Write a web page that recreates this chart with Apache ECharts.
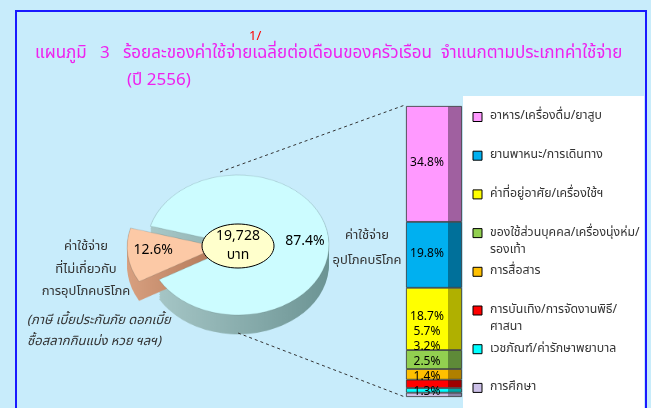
<!DOCTYPE html>
<html>
<head>
<meta charset="UTF-8">
<title>แผนภูมิ 3</title>
<script src="https://cdn.jsdelivr.net/npm/echarts@6/dist/echarts.min.js"></script>
<style>
    html, body { margin: 0; padding: 0; }
    #wrap { position: relative; width: 651px; height: 408px; background: #c8ecfb; overflow: hidden; }
    /* pie is squashed to look tilted */
    #pie { position: absolute; left: 0; top: 0; width: 651px; height: 408px; transform-origin: 0 245px; transform: scaleY(0.77); }
    #main { position: absolute; left: 0; top: 0; width: 651px; height: 408px; }
</style>
</head>
<body>
<div id="wrap"><div id="pie"></div><div id="main"></div></div>
<script>
// ข้อมูล
var pieNames = ['ค่าใช้จ่ายที่ไม่เกี่ยวกับการอุปโภคบริโภค', 'ค่าใช้จ่ายอุปโภคบริโภค'];
var pieValues = [12.6, 87.4];
var totalBaht = '19,728';
var cats = [
    'อาหาร/เครื่องดื่ม/ยาสูบ',
    'ยานพาหนะ/การเดินทาง',
    'ค่าที่อยู่อาศัย/เครื่องใช้ฯ',
    'ของใช้ส่วนบุคคล/เครื่องนุ่งห่ม/\nรองเท้า',
    'การสื่อสาร',
    'การบันเทิง/การจัดงานพิธี/\nศาสนา',
    'เวชภัณฑ์/ค่ารักษาพยาบาล',
    'การศึกษา'
];
var catValues = [34.8, 19.8, 18.7, 5.7, 3.2, 2.5, 1.4, 1.3];

var FONT = 'Tahoma, "Noto Sans Thai", "Noto Sans", "DejaVu Sans", sans-serif';
var catColors = ['#ff99ff', '#00b0f0', '#ffff00', '#92d050', '#ffc000', '#ff0000', '#00ffff', '#ccc0e8'];
var catDark = ['#a060a0', '#00709a', '#b0b000', '#5e8a38', '#b08000', '#a00000', '#00a8a8', '#8a84a8'];
var pieTop = ['#fcc9a6', '#ccfcff'];
var pieSide = [['#d8a080', '#b27858'], ['#a8c8c8', '#6c9494']];

var cx = 238, cy = 245, R = 91, depth = 25, startAng = 209.7;

// วงกลม (ชั้นล่าง)
var pieChart = echarts.init(document.getElementById('pie'));
var pieSeries = [];
function pieLayer(k, isTop) {
    return {
        type: 'pie',
        z: isTop ? 5 : 2,
        center: [cx, cy + k],
        radius: R,
        startAngle: startAng,
        selectedMode: 'single',
        selectedOffset: 20,
        silent: true,
        animation: false,
        label: { show: false },
        labelLine: { show: false },
        itemStyle: {
            borderColor: isTop ? 'rgba(60,80,80,0.35)' : 'transparent',
            borderWidth: isTop ? 0.6 : 0
        },
        data: pieValues.map(function (v, i) {
            var c = isTop ? pieTop[i] : new echarts.graphic.LinearGradient(0, 0, 1, 0, [
                { offset: 0, color: pieSide[i][0] }, { offset: 1, color: pieSide[i][1] }]);
            return { name: pieNames[i], value: v, selected: i === 0, itemStyle: { color: c } };
        })
    };
}
for (var k = depth; k > 0; k -= 3) pieSeries.push(pieLayer(k, false));
pieSeries.push(pieLayer(0, true));
pieChart.setOption({ backgroundColor: 'transparent', series: pieSeries });

// แผนภูมิหลัก
var total = catValues.reduce(function (a, b) { return a + b; }, 0);
var chart = echarts.init(document.getElementById('main'));

var barSeries = [];
for (var i = cats.length - 1; i >= 0; i--) {
    barSeries.push({
        type: 'bar',
        name: cats[i],
        stack: 'c',
        barWidth: 56,
        silent: true,
        animation: false,
        data: [catValues[i]],
        itemStyle: {
            color: new echarts.graphic.LinearGradient(0, 0, 1, 0, [
                { offset: 0, color: catColors[i] }, { offset: 0.75, color: catColors[i] },
                { offset: 0.75, color: catDark[i] }, { offset: 1, color: catDark[i] }
            ]),
            borderColor: '#333', borderWidth: 0.8
        },
        label: {
            show: true, position: 'inside', offset: [-7, 0],
            formatter: catValues[i].toFixed(1) + '%',
            color: '#000', fontSize: 12, fontFamily: FONT
        }
    });
}

var graphics = [
    { type: 'rect', shape: { x: 16, y: 11, width: 630, height: 420 }, style: { fill: 'none', stroke: '#1a1aff', lineWidth: 2 } },
    { type: 'text', x: 249, y: 37, style: { text: '1/', fill: '#ff0000', font: '13px ' + FONT, verticalAlign: 'middle' } },
    { type: 'text', x: 35, y: 55, style: { text: 'แผนภูมิ   3   ร้อยละของค่าใช้จ่ายเฉลี่ยต่อเดือนของครัวเรือน  จำแนกตามประเภทค่าใช้จ่าย', fill: '#ee22ee', font: '17px ' + FONT, verticalAlign: 'middle' } },
    { type: 'text', x: 127, y: 82, style: { text: '(ปี 2556)', fill: '#ee22ee', font: '17px ' + FONT, verticalAlign: 'middle' } },
    { type: 'rect', shape: { x: 463, y: 96, width: 181, height: 330 }, style: { fill: '#ffffff' } },
    { type: 'line', shape: { x1: 220, y1: 172, x2: 405, y2: 105 }, style: { stroke: '#333', lineWidth: 1, lineDash: [3, 3] } },
    { type: 'line', shape: { x1: 238, y1: 333, x2: 405, y2: 397 }, style: { stroke: '#333', lineWidth: 1, lineDash: [3, 3] } },
    { type: 'ellipse', shape: { cx: 238, cy: 246, rx: 36, ry: 22 }, style: { fill: '#ffffcc', stroke: '#000', lineWidth: 1 }, z: 10 },
    { type: 'text', x: 238, y: 247, z: 11, style: { text: totalBaht + '\nบาท', fill: '#000', font: '14px ' + FONT, align: 'center', verticalAlign: 'middle', lineHeight: 19 } },
    { type: 'text', x: 367, y: 249, style: { text: 'ค่าใช้จ่าย\nอุปโภคบริโภค', fill: '#333', font: '13px ' + FONT, align: 'center', verticalAlign: 'middle', lineHeight: 25 } },
    { type: 'text', x: 86, y: 270, style: { text: 'ค่าใช้จ่าย\nที่ไม่เกี่ยวกับ\nการอุปโภคบริโภค', fill: '#333', font: '13px ' + FONT, align: 'center', verticalAlign: 'middle', lineHeight: 22.5 } },
    { type: 'text', x: 27, y: 332, style: { text: '(ภาษี เบี้ยประกันภัย ดอกเบี้ย\nซื้อสลากกินแบ่ง หวย ฯลฯ)', fill: '#333', font: 'italic 13px ' + FONT, verticalAlign: 'middle', lineHeight: 21 } }
];

// คำอธิบายสัญลักษณ์
cats.forEach(function (name, i) {
    var y = 117 + i * 38.7;
    graphics.push({ type: 'rect', shape: { x: 473, y: y - 4.5, width: 9, height: 9 }, style: { fill: catColors[i], stroke: '#000', lineWidth: 1 } });
    graphics.push({ type: 'text', x: 490, y: y - 8.5, style: { text: name, fill: '#333', font: '12.3px ' + FONT, verticalAlign: 'top', lineHeight: 17 } });
});

chart.setOption({
    backgroundColor: 'transparent',
    animation: false,
    textStyle: { fontFamily: FONT },
    grid: { left: 406, top: 106, width: 56, height: 291 },
    xAxis: { type: 'category', data: ['ค่าใช้จ่ายอุปโภคบริโภค'], show: false },
    yAxis: { type: 'value', min: 0, max: total, show: false },
    series: barSeries.concat([{
        // ป้ายค่าร้อยละของวงกลม (วงโปร่งใส ไม่บีบ)
        type: 'pie',
        center: [cx, cy + 1],
        radius: [0, 128],
        startAngle: 180 + pieValues[0] / total * 180,
        selectedMode: 'single',
        selectedOffset: 18,
        silent: true,
        itemStyle: { color: 'rgba(0,0,0,0)' },
        label: { show: true, position: 'inside', formatter: '{c}%', color: '#000', fontSize: 14, fontFamily: FONT },
        labelLine: { show: false },
        data: pieValues.map(function (v, i) { return { name: pieNames[i], value: v, selected: i === 0 }; })
    }]),
    graphic: graphics
});

// เลื่อนป้ายของแท่งเล็ก ๆ ไม่ให้ทับกัน (ไล่จากล่างขึ้นบน)
var below = 0, prevY = null;
var labelFix = barSeries.map(function (s) {
    var v = s.data[0];
    var yBot = chart.convertToPixel({ yAxisIndex: 0 }, below);
    var yTop = chart.convertToPixel({ yAxisIndex: 0 }, below + v);
    below += v;
    var mid = (yBot + yTop) / 2;
    var want = prevY === null ? Math.min(mid, yBot - 4) : Math.min(mid, prevY - 15);
    prevY = want;
    return { label: { offset: [-7, want - mid] } };
});
chart.setOption({ series: labelFix });
</script>
</body>
</html>
